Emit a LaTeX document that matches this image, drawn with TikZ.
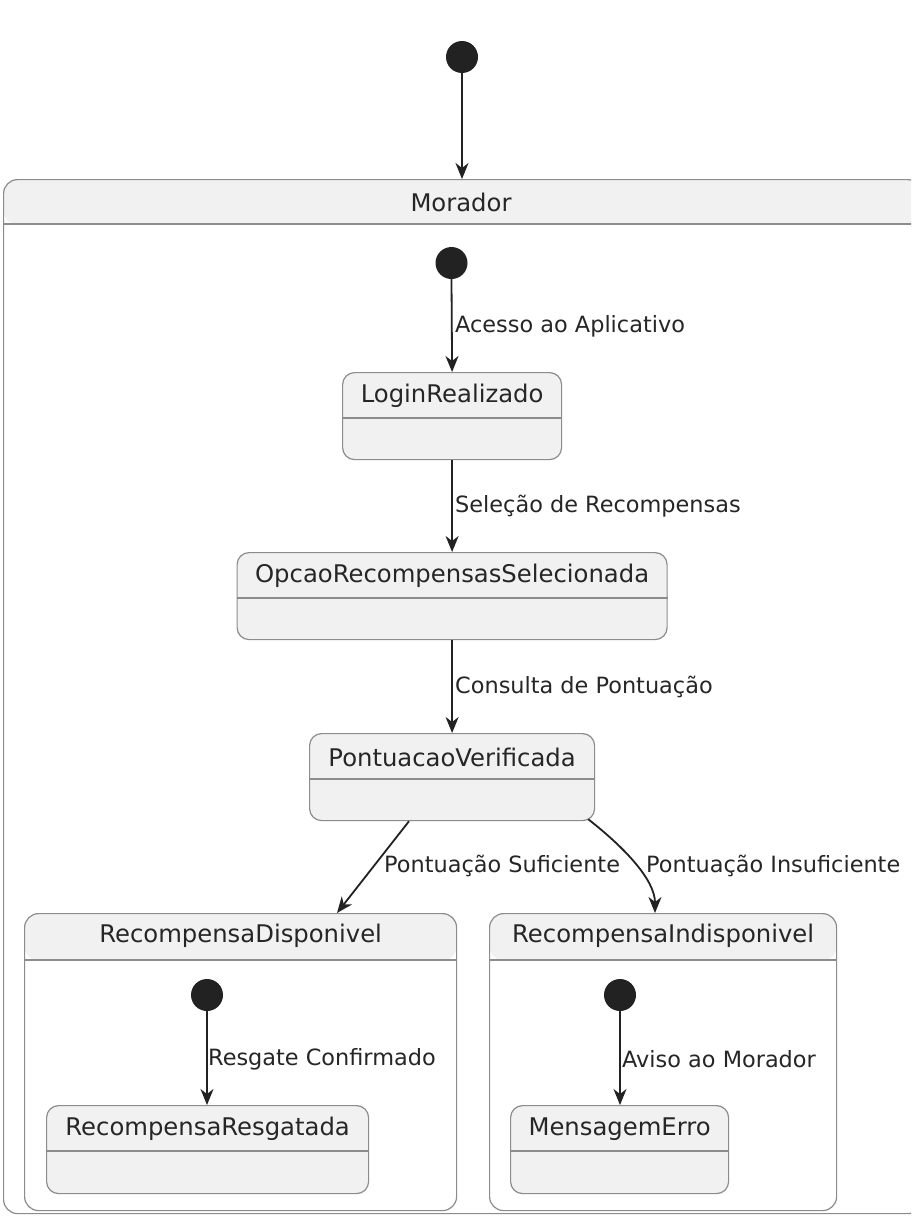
\documentclass[tikz,border=0pt]{standalone}
\usepackage{fontspec}
\setmainfont{DejaVu Sans}
\usetikzlibrary{arrows.meta,calc}
\definecolor{fillc}{HTML}{F1F1F1}
\definecolor{bordc}{HTML}{8C8C8C}
\definecolor{linec}{HTML}{222222}
\begin{document}
\begin{tikzpicture}[x=1pt,y=-1pt,
 stbox/.style={draw=bordc, fill=fillc, line width=1.2pt, rounded corners=12pt, inner sep=0pt, anchor=north west},
 compbox/.style={draw=bordc, fill=white, line width=1.2pt, rounded corners=14pt, inner sep=0pt, anchor=north west,
   path picture={\fill[fillc] (path picture bounding box.north west) rectangle ([yshift=-#1]path picture bounding box.north east);}},
 sttext/.style={font=\fontsize{24.3}{28}\selectfont, text=black!85, inner sep=0pt},
 lbl/.style={font=\fontsize{22.4}{26}\selectfont, text=black!85, anchor=west, inner sep=0pt},
 ini/.style={circle, fill=linec, minimum size=32pt, inner sep=0pt},
 arr/.style={draw=linec, line width=1.8pt, -{Stealth[length=16pt,width=13pt,inset=5pt]}},
 sep/.style={draw=bordc, line width=1.2pt}]

\useasboundingbox (0,0) rectangle (911,1218);
\clip (0,0) rectangle (911,1218);

% outer composite
\node[compbox=45pt, minimum width=918pt, minimum height=1034pt] (morador) at (3,179) {};
\draw[sep] ([yshift=-45pt]morador.north west) -- ([yshift=-45pt]morador.north east);
\node[sttext] (moradorT) at (461,202) {Morador};

% simple states
\node[stbox, minimum width=219pt, minimum height=87pt] (login) at (342,372) {};
\node[stbox, minimum width=430pt, minimum height=87pt] (opcao) at (236.5,552) {};
\node[stbox, minimum width=285pt, minimum height=87pt] (pont) at (309,733) {};
\foreach \n/\t in {login/LoginRealizado, opcao/OpcaoRecompensasSelecionada, pont/PontuacaoVerificada}{
  \draw[sep] ([yshift=-46pt]\n.north west) -- ([yshift=-46pt]\n.north east);
  \node[sttext] (\n T) at ([yshift=-24pt]\n.north) {\t};
}

% inner composites
\node[compbox=47pt, minimum width=432pt, minimum height=297pt] (recDisp) at (24,913) {};
\node[compbox=47pt, minimum width=347pt, minimum height=297pt] (recInd) at (489,913) {};
\foreach \n/\t in {recDisp/RecompensaDisponivel, recInd/RecompensaIndisponivel}{
  \draw[sep] ([yshift=-47pt]\n.north west) -- ([yshift=-47pt]\n.north east);
  \node[sttext] (\n T) at ([yshift=-23pt]\n.north) {\t};
}

\node[stbox, minimum width=322pt, minimum height=88pt] (resg) at (46,1105) {};
\node[stbox, minimum width=218pt, minimum height=88pt] (msg) at (510,1105) {};
\foreach \n/\t in {resg/RecompensaResgatada, msg/MensagemErro}{
  \draw[sep] ([yshift=-46pt]\n.north west) -- ([yshift=-46pt]\n.north east);
  \node[sttext] (\n T) at ([yshift=-24pt]\n.north) {\t};
}

% initial states
\node[ini] (ini0) at (462,57) {};
\node[ini] (ini1) at (451.5,263) {};
\node[ini] (ini2) at (207,995) {};
\node[ini] (ini3) at (620,995) {};

% transitions
\draw[arr] (ini0) -- (ini0 |- morador.north);
\draw[arr] (ini1.south) -- (login.north);
\draw[arr] (login.south) -- (login.south |- opcao.north);
\draw[arr] (opcao.south) -- (opcao.south |- pont.north);
\draw[arr] ([xshift=100pt]pont.south west) -- ([xshift=313pt]recDisp.north west);
\draw[arr] ([shift={(-7pt,2pt)}]pont.south east) .. controls (625,848) and (655,880) .. ([xshift=166pt]recInd.north west);
\draw[arr] (ini2) -- (ini2 |- resg.north);
\draw[arr] (ini3) -- (ini3 |- msg.north);

% labels
\node[lbl] (l1) at (455,326) {Acesso ao Aplicativo};
\node[lbl] (l2) at (455,506) {Seleção de Recompensas};
\node[lbl] (l3) at (455,687) {Consulta de Pontuação};
\node[lbl] (l4) at (384,866) {Pontuação Suficiente};
\node[lbl] (l5) at (646,866) {Pontuação Insuficiente};
\node[lbl] (l6) at (208,1059) {Resgate Confirmado};
\node[lbl] (l7) at (622,1059) {Aviso ao Morador};
\end{tikzpicture}
\end{document}
